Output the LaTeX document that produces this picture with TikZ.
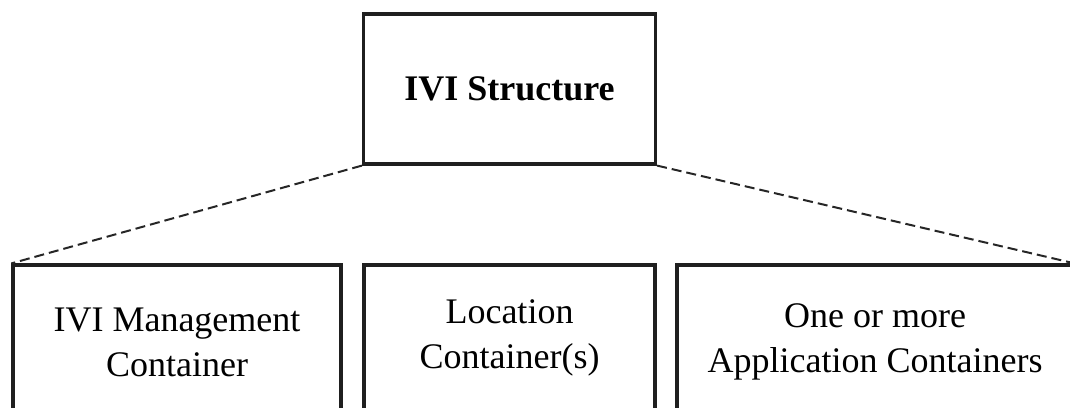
\documentclass[tikz,border=0pt]{standalone}
\usepackage{fontspec}
\setmainfont{Liberation Serif}
\begin{document}
\begin{tikzpicture}[x=1pt,y=-1pt,
  boxstyle/.style={draw=black!88, line width=3.2pt, rectangle, inner sep=0pt,
    minimum height=150pt, align=center,
    font=\fontsize{36}{45}\selectfont},
  dashline/.style={draw=black!85, line width=2pt, dash pattern=on 10pt off 5pt}]
\clip (0,0) rectangle (1070,407);
\useasboundingbox (0,0) rectangle (1070,407);
\node[boxstyle, minimum width=292pt, font=\fontsize{36}{45}\selectfont\bfseries] (top) at (509.5,89) {IVI Structure};
\node[boxstyle, minimum width=328pt, minimum height=154pt] (mgmt) at (177,342) {IVI Management\\Container};
\node[boxstyle, minimum width=291pt, minimum height=146pt] (loc) at (509.5,338) {Location\\Container(s)};
\node[boxstyle, minimum width=396pt, minimum height=154pt] (app) at (875,342) {One or more\\Application Containers};
\draw[dashline] (top.south west) -- (mgmt.north west);
\draw[dashline] (top.south east) -- (app.north east);
\end{tikzpicture}
\end{document}
